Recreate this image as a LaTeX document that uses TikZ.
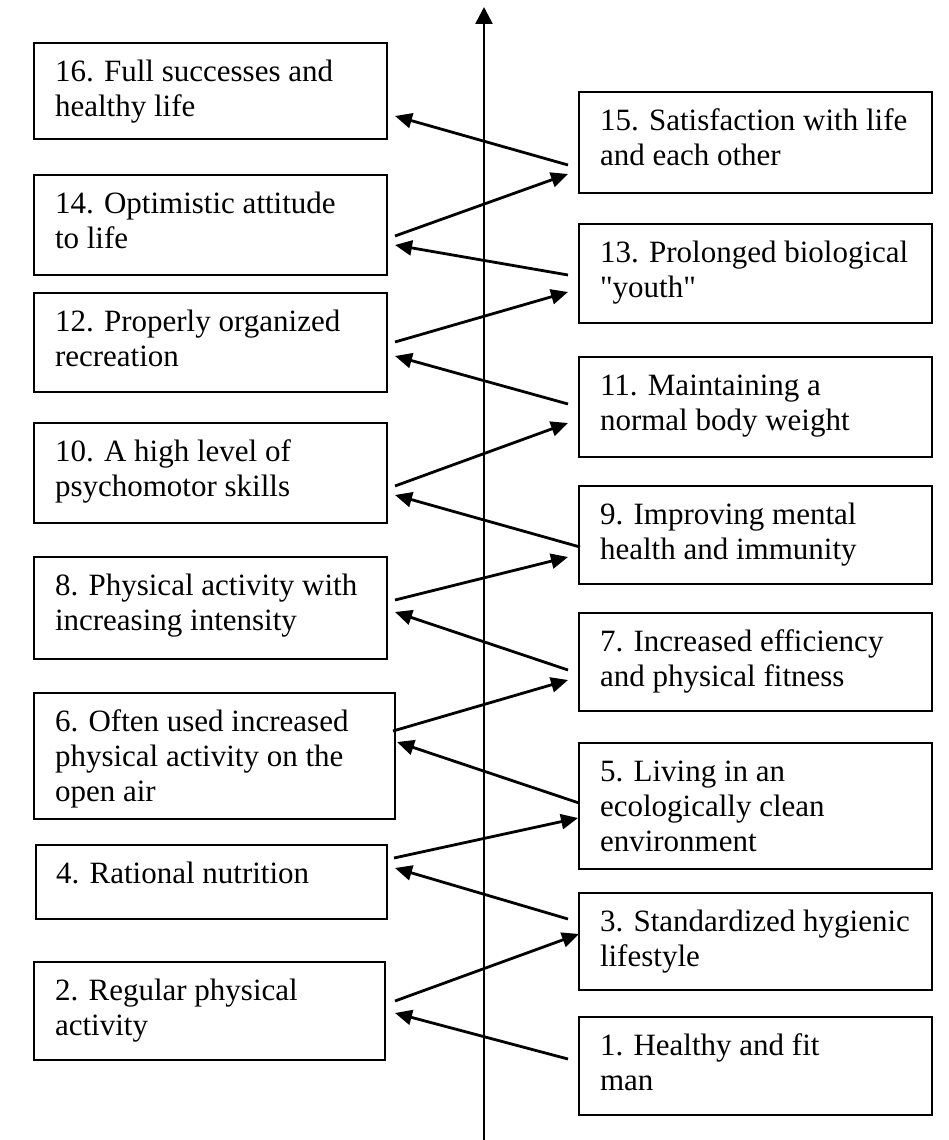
\documentclass[tikz,border=0pt]{standalone}
\usepackage{fontspec}
\setmainfont{Liberation Serif}
\usetikzlibrary{arrows.meta}
% straight double quote, kept clear of the tex-text quote mapping
\newcommand{\dq}{\XeTeXglyph\XeTeXcharglyph"22\relax}

\begin{document}
\begin{tikzpicture}[x=1pt, y=-1pt,
  box/.style={draw, line width=1.7pt, inner sep=0pt, outer sep=0pt, anchor=north west},
  % texts are placed by the baseline of their last line
  txt/.style={anchor=base west, align=left, inner sep=0pt, outer sep=0pt,
              font=\fontsize{31}{35}\selectfont},
  link/.style={line width=2.8pt, -{Triangle[length=17pt,width=15pt]}},
  axis/.style={line width=2.6pt, -{Triangle[length=17pt,width=17pt]}}
]
\useasboundingbox (0,0) rectangle (949,1140);

% central axis
\coordinate (axbot) at (484,1140);
\coordinate (axtop) at (484,7);
\draw[axis] (axbot) -- (axtop);

% left column boxes
\node[box, minimum width=353pt, minimum height=96pt]  (b16) at (34,43)  {};
\node[box, minimum width=353pt, minimum height=100pt] (b14) at (34,175) {};
\node[box, minimum width=353pt, minimum height=99pt]  (b12) at (34,293) {};
\node[box, minimum width=353pt, minimum height=100pt] (b10) at (34,423) {};
\node[box, minimum width=353pt, minimum height=102pt] (b8)  at (34,557) {};
\node[box, minimum width=361pt, minimum height=126pt] (b6)  at (34,693) {};
\node[box, minimum width=351pt, minimum height=74pt]  (b4)  at (36,845) {};
\node[box, minimum width=351pt, minimum height=98pt]  (b2)  at (34,962) {};

% right column boxes
\node[box, minimum width=353pt, minimum height=101pt] (b15) at (579,92)   {};
\node[box, minimum width=353pt, minimum height=99pt]  (b13) at (579,224)  {};
\node[box, minimum width=353pt, minimum height=100pt] (b11) at (579,357)  {};
\node[box, minimum width=353pt, minimum height=98pt]  (b9)  at (579,486)  {};
\node[box, minimum width=353pt, minimum height=98pt]  (b7)  at (579,613)  {};
\node[box, minimum width=353pt, minimum height=126pt] (b5)  at (579,743)  {};
\node[box, minimum width=353pt, minimum height=97pt]  (b3)  at (579,893)  {};
\node[box, minimum width=353pt, minimum height=98pt]  (b1)  at (579,1017) {};

% box texts
\node[txt] (t16) at (55,116)  {16. Full successes and\\healthy life};
\node[txt] (t14) at (55,248)  {14. Optimistic attitude\\to life};
\node[txt] (t12) at (55,366)  {12. Properly organized\\recreation};
\node[txt] (t10) at (55,496)  {10. A high level of\\psychomotor skills};
\node[txt] (t8)  at (55,630)  {8. Physical activity with\\increasing intensity};
\node[txt] (t6)  at (55,801)  {6. Often used increased\\physical activity on the\\open air};
\node[txt] (t4)  at (56,883)  {4. Rational nutrition};
\node[txt] (t2)  at (55,1035) {2. Regular physical\\activity};

\node[txt] (t15) at (600,165)  {15. Satisfaction with life\\and each other};
\node[txt] (t13) at (600,297)  {13. Prolonged biological\\\dq youth\dq};
\node[txt] (t11) at (600,430)  {11. Maintaining a\\normal body weight};
\node[txt] (t9)  at (600,559)  {9. Improving mental\\health and immunity};
\node[txt] (t7)  at (600,686)  {7. Increased efficiency\\and physical fitness};
\node[txt] (t5)  at (600,851)  {5. Living in an\\ecologically clean\\environment};
\node[txt] (t3)  at (600,966)  {3. Standardized hygienic\\lifestyle};
\node[txt] (t1)  at (600,1090) {1. Healthy and fit\\man};

% zig-zag links between the columns
\draw[link] ([shift={(-11,22.5)}]b15.west) -- ([shift={(8,25)}]b16.east);
\draw[link] ([shift={(8,11)}]b14.east)     -- ([shift={(-11,31.5)}]b15.west);
\draw[link] ([shift={(-11,1.5)}]b13.west)  -- ([shift={(8,20)}]b14.east);
\draw[link] ([shift={(8,-0.5)}]b12.east)   -- ([shift={(-11,18.5)}]b13.west);
\draw[link] ([shift={(-11,-3)}]b11.west)   -- ([shift={(8,13.5)}]b12.east);
\draw[link] ([shift={(8,13)}]b10.east)     -- ([shift={(-11,16)}]b11.west);
\draw[link] ([shift={(1,12)}]b9.west)      -- ([shift={(8,22)}]b10.east);
\draw[link] ([shift={(8,-8)}]b8.east)      -- ([shift={(-11,22)}]b9.west);
\draw[link] ([shift={(-11,8)}]b7.west)     -- ([shift={(8,4)}]b8.east);
\draw[link] ([shift={(-2,-25)}]b6.east)    -- ([shift={(-11,18)}]b7.west);
\draw[link] ([shift={(0,-3)}]b5.west)      -- ([shift={(2,-14)}]b6.east);
\draw[link] ([shift={(7,-24)}]b4.east)     -- ([shift={(-1,12)}]b5.west);
\draw[link] ([shift={(-11,-22.5)}]b3.west) -- ([shift={(8,-14)}]b4.east);
\draw[link] ([shift={(10,-10)}]b2.east)    -- ([shift={(0,-7.5)}]b3.west);
\draw[link] ([shift={(-11,-7)}]b1.west)    -- ([shift={(10,2)}]b2.east);
\end{tikzpicture}
\end{document}
